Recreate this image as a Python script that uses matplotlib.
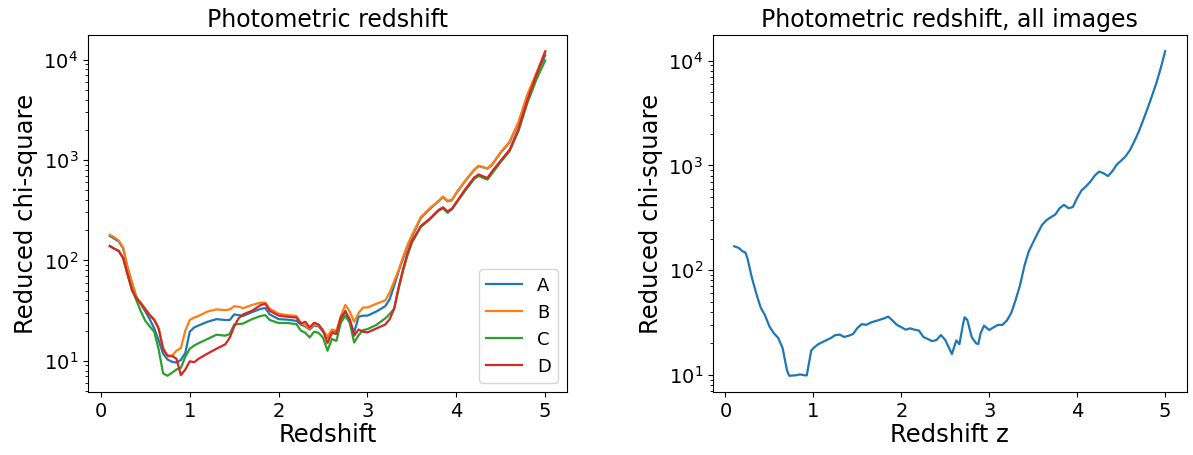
import matplotlib
matplotlib.use("Agg")
import matplotlib.pyplot as plt

# ---- data ----
z_left = [0.1, 0.15, 0.2, 0.25, 0.3, 0.35, 0.4, 0.45, 0.5, 0.55, 0.6, 0.65, 0.7, 0.75,
          0.8, 0.85, 0.9, 0.95, 1.0, 1.05, 1.1, 1.2, 1.3, 1.4, 1.45, 1.5, 1.55, 1.6,
          1.7, 1.8, 1.85, 1.9, 2.0, 2.1, 2.2, 2.25, 2.3, 2.35, 2.4, 2.45, 2.5, 2.55,
          2.6, 2.65, 2.7, 2.75, 2.8, 2.85, 2.9, 2.95, 3.0, 3.1, 3.2, 3.25, 3.3, 3.35,
          3.4, 3.45, 3.5, 3.6, 3.7, 3.8, 3.85, 3.9, 3.95, 4.0, 4.1, 4.2, 4.25, 4.3,
          4.35, 4.4, 4.5, 4.6, 4.7, 4.8, 4.9, 5.0]

chi_A = [175, 165, 155, 132, 85, 60, 43, 37, 31, 26, 21, 16, 11.8, 10.3,
         9.8, 9.6, 10.2, 12, 19.5, 21.5, 22.5, 24.5, 26, 25.5, 25.5, 29, 28.5, 28,
         30.5, 33, 33.5, 29, 26, 25.7, 25, 23, 22, 20.5, 22.5, 22, 19.5, 17,
         20, 19.5, 25, 31.5, 25, 19.2, 27.5, 28.2, 28.2, 31, 35, 41, 56, 78,
         104, 138, 172, 265, 325, 388, 428, 388, 398, 468, 618, 795, 870, 845,
         820, 892, 1185, 1505, 2350, 4400, 7100, 11000]

chi_B = [180, 170, 158, 135, 85, 60, 43, 38, 33, 28.5, 26, 21, 13.6, 11.0,
         11.2, 12.6, 13.4, 20, 25.5, 27, 28, 31, 32.5, 32, 32.5, 35, 34.5, 33.5,
         36, 38, 38, 33, 29.5, 28.5, 28, 24, 22.5, 21, 23, 22.5, 20, 17.5,
         20.5, 20, 28, 36, 31, 24.5, 30, 34, 34, 37, 40, 48, 62, 80,
         108, 142, 178, 270, 330, 392, 432, 392, 402, 472, 622, 800, 875, 850,
         825, 900, 1200, 1525, 2400, 4500, 7350, 12100]

chi_C = [139, 131, 125, 105, 72, 52, 40, 31, 25, 22, 19.5, 13, 7.5, 7.1,
         7.6, 8.2, 8.5, 11, 13.2, 14.2, 15, 16.5, 18.2, 17.8, 18.5, 23, 23.2, 23.5,
         26, 28, 28.5, 25.5, 23.8, 23.8, 23.2, 20, 19, 17.1, 19.5, 19, 17, 12.6,
         16.5, 15.8, 24, 28, 24, 15.2, 18, 20.2, 20.7, 22.8, 26.5, 29.3, 33, 52,
         78, 112, 150, 215, 255, 312, 330, 298, 322, 372, 495, 645, 695, 662,
         638, 730, 955, 1225, 1950, 3700, 6300, 9800]

chi_D = [139, 131, 124, 106, 73, 50, 42, 37, 32.5, 28.5, 25.5, 21, 13, 11.3,
         11.2, 10.5, 7.2, 8.2, 9.9, 9.7, 10.5, 11.8, 13.2, 14.6, 17, 22, 26.5, 29,
         31.5, 36, 37, 31.5, 28.2, 27.5, 27, 23.5, 24.5, 21.5, 24, 23, 20, 15,
         19, 18.5, 27, 31, 26, 17.8, 20.5, 19.5, 19.2, 21, 23, 26, 33, 54,
         82, 118, 155, 220, 260, 318, 338, 308, 328, 380, 512, 668, 718, 688,
         662, 768, 988, 1268, 2050, 3980, 7000, 12000]

series_labels = ["A", "B", "C", "D"]

z_all = [0.1, 0.15, 0.2, 0.225, 0.25, 0.3, 0.35, 0.4, 0.45, 0.5, 0.55, 0.6, 0.65, 0.7,
         0.725, 0.8, 0.85, 0.9, 0.925, 0.95, 0.975, 1.0, 1.05, 1.1, 1.2, 1.25, 1.3,
         1.35, 1.4, 1.45, 1.5, 1.55, 1.6, 1.65, 1.7, 1.8, 1.85, 1.9, 1.95, 2.0, 2.05,
         2.1, 2.15, 2.2, 2.25, 2.3, 2.35, 2.4, 2.45, 2.5, 2.55, 2.575, 2.625, 2.66,
         2.7, 2.72, 2.75, 2.8, 2.85, 2.875, 2.9, 2.94, 3.0, 3.05, 3.1, 3.15, 3.2,
         3.25, 3.3, 3.35, 3.4, 3.45, 3.5, 3.55, 3.6, 3.65, 3.7, 3.75, 3.8, 3.85,
         3.9, 3.95, 4.0, 4.05, 4.1, 4.15, 4.2, 4.25, 4.3, 4.35, 4.4, 4.45, 4.5,
         4.55, 4.6, 4.65, 4.7, 4.75, 4.8, 4.85, 4.9, 4.95, 5.0]

chi_all = [169, 163, 150, 148, 130, 85, 60, 44, 37, 29, 25, 22.5, 18, 11,
           9.8, 9.9, 10.1, 9.9, 9.9, 13, 17, 18, 19.5, 20.5, 22.5, 24, 24.2,
           23, 23.6, 24.5, 28, 30.5, 30, 31.5, 32.5, 34.5, 36, 33, 30, 28.5, 27,
           27.8, 27, 26.5, 23, 22, 21, 21.5, 24, 21.5, 17.5, 15.8, 21.3, 19.6,
           30, 35.5, 33.5, 23, 20, 19.7, 24.8, 29.5, 26.8, 28.5, 30, 30, 33,
           39, 52, 72, 110, 152, 185, 225, 270, 300, 320, 339, 390, 420,
           390, 400, 490, 578, 630, 700, 800, 873, 840, 790, 880, 1020, 1110,
           1220, 1400, 1700, 2100, 2700, 3500, 4600, 6100, 8500, 12300]

colors = ["#1f77b4", "#ff7f0e", "#2ca02c", "#d62728"]

W, H = 1193, 455
fig = plt.figure(figsize=(W / 100, H / 100), dpi=100)

ax1 = fig.add_axes([88 / W, 1 - 392 / H, 479 / W, 357 / H])
ax2 = fig.add_axes([712.7 / W, 1 - 392 / H, 474 / W, 357 / H])

for vals, lab, c in zip([chi_A, chi_B, chi_C, chi_D], series_labels, colors):
    ax1.plot(z_left, vals, color=c, label=lab, lw=1.6)
ax1.set_yscale("log")
ax1.set_title("Photometric redshift", fontsize=17)
ax1.set_xlabel("Redshift", fontsize=17.5, labelpad=2)
ax1.set_ylabel("Reduced chi-square", fontsize=17.5)
ax1.legend(loc="lower right", fontsize=13)

ax2.plot(z_all, chi_all, color=colors[0], lw=1.6)
ax2.set_yscale("log")
ax2.set_title("Photometric redshift, all images", fontsize=17)
ax2.set_xlabel("Redshift z", fontsize=17.5, labelpad=2)
ax2.set_ylabel("Reduced chi-square", fontsize=17.5)

for ax in (ax1, ax2):
    ax.tick_params(axis="both", which="major", labelsize=14)

fig.savefig("out.png", dpi=100)
